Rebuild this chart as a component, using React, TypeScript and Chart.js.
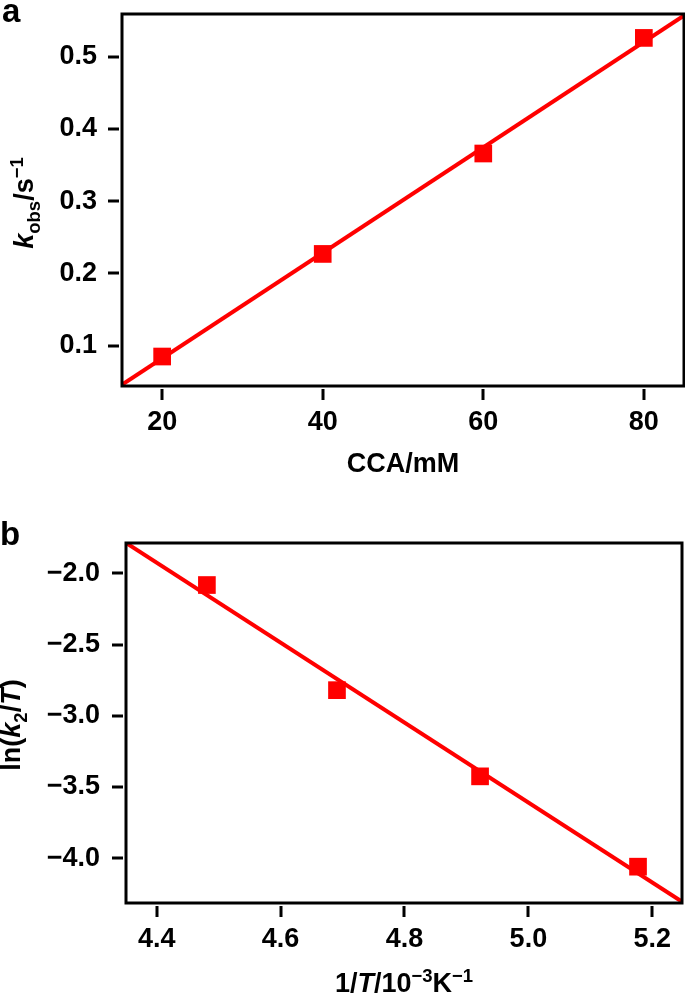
import React, { useEffect, useRef } from 'react';
import { Chart, registerables } from 'chart.js';

Chart.register(...registerables);

// ---------- Panel a data ----------
const CCA_MM = [20, 40, 60, 80];
const KOBS = [0.085, 0.227, 0.366, 0.526];
const FIT_A_X = [15, 85];
const FIT_A_Y = [0.046, 0.557];
const TICKS_A_X = [20, 40, 60, 80];
const TICK_LABELS_A_X = ['20', '40', '60', '80'];
const TICKS_A_Y = [0.1, 0.2, 0.3, 0.4, 0.5];
const TICK_LABELS_A_Y = ['0.1', '0.2', '0.3', '0.4', '0.5'];
const RANGE_A_X = [15, 85];
const RANGE_A_Y = [0.0442, 0.5591];

// ---------- Panel b data ----------
const INV_T = [4.481, 4.691, 4.922, 5.177];
const LN_K2_T = [-2.082, -2.82, -3.425, -4.059];
const FIT_B_X = [4.35, 5.248];
const FIT_B_Y = [-1.785, -4.305];
const TICKS_B_X = [4.4, 4.6, 4.8, 5.0, 5.2];
const TICK_LABELS_B_X = ['4.4', '4.6', '4.8', '5.0', '5.2'];
const TICKS_B_Y = [-4.0, -3.5, -3.0, -2.5, -2.0];
const TICK_LABELS_B_Y = ['\u22124.0', '\u22123.5', '\u22123.0', '\u22122.5', '\u22122.0'];
const RANGE_B_X = [4.3504, 5.248];
const RANGE_B_Y = [-4.314, -1.787];

const FAMILY = '"Liberation Sans", Arial, Helvetica, sans-serif';
const RED = '#ff0000';

type Seg = { t: string; it?: boolean; s?: 'sub' | 'sup' };

const TITLE_A_X: Seg[] = [{ t: 'CCA/mM' }];
const TITLE_A_Y: Seg[] = [{ t: 'k', it: true }, { t: 'obs', s: 'sub' }, { t: '/s' }, { t: '\u22121', s: 'sup' }];
const TITLE_B_X: Seg[] = [{ t: '1/' }, { t: 'T', it: true }, { t: '/10' }, { t: '\u22123', s: 'sup' }, { t: 'K' }, { t: '\u22121', s: 'sup' }];
const TITLE_B_Y: Seg[] = [{ t: 'ln(' }, { t: 'k', it: true }, { t: '2', s: 'sub' }, { t: '/' }, { t: 'T', it: true }, { t: ')' }];

const MAIN_SIZE = 27;
const SCRIPT_SIZE = 18.5;

function segFont(seg: Seg) {
  const size = seg.s ? SCRIPT_SIZE : MAIN_SIZE;
  return `${seg.it ? 'italic ' : ''}bold ${size}px ${FAMILY}`;
}

function drawRich(ctx: CanvasRenderingContext2D, segs: Seg[], cx: number, baseline: number) {
  let total = 0;
  const widths = segs.map((seg) => {
    ctx.font = segFont(seg);
    const w = ctx.measureText(seg.t).width;
    total += w;
    return w;
  });
  let x = cx - total / 2;
  ctx.textAlign = 'left';
  ctx.textBaseline = 'alphabetic';
  ctx.fillStyle = '#000';
  segs.forEach((seg, i) => {
    ctx.font = segFont(seg);
    const dy = seg.s === 'sub' ? 7 : seg.s === 'sup' ? -10 : 0;
    ctx.fillText(seg.t, x, baseline + dy);
    x += widths[i];
  });
}

interface DecorCfg {
  xTitle: Seg[];
  xTitleY: number;
  yTitle: Seg[];
  yTitleX: number;
  yTitleY: number;
  letter: string;
  letterX: number;
  letterY: number;
  xTicks: number[];
  yTicks: number[];
}

function makeDecor(cfg: DecorCfg) {
  return {
    id: 'decor',
    afterDraw(chart: any) {
      const ctx: CanvasRenderingContext2D = chart.ctx;
      const { left, right, top, bottom } = chart.chartArea;
      const xs = chart.scales.x;
      const ys = chart.scales.y;
      ctx.save();
      // box
      ctx.strokeStyle = '#000';
      ctx.lineWidth = 3;
      ctx.strokeRect(left, top, right - left, bottom - top);
      // tick marks
      const gap = 3;
      const len = 11;
      ctx.lineWidth = 3;
      ctx.beginPath();
      cfg.xTicks.forEach((v) => {
        const px = Math.round(xs.getPixelForValue(v));
        ctx.moveTo(px, bottom + gap);
        ctx.lineTo(px, bottom + gap + len);
      });
      cfg.yTicks.forEach((v) => {
        const py = Math.round(ys.getPixelForValue(v));
        ctx.moveTo(left - gap, py);
        ctx.lineTo(left - gap - len, py);
      });
      ctx.stroke();
      // titles
      drawRich(ctx, cfg.xTitle, (left + right) / 2, cfg.xTitleY);
      ctx.save();
      ctx.translate(cfg.yTitleX, cfg.yTitleY);
      ctx.rotate(-Math.PI / 2);
      drawRich(ctx, cfg.yTitle, 0, 0);
      ctx.restore();
      // panel letter
      ctx.font = `bold 33px ${FAMILY}`;
      ctx.fillStyle = '#000';
      ctx.textAlign = 'left';
      ctx.textBaseline = 'alphabetic';
      ctx.fillText(cfg.letter, cfg.letterX, cfg.letterY);
      ctx.restore();
    },
  };
}

interface PanelCfg {
  px: number[];
  py: number[];
  fx: number[];
  fy: number[];
  rx: number[];
  ry: number[];
  tx: number[];
  tlx: string[];
  ty: number[];
  tly: string[];
  padTop: number;
  padRight: number;
  yAxisWidth: number;
  xAxisHeight: number;
  yTickPad: number;
  decor: DecorCfg;
}

function buildConfig(p: PanelCfg): any {
  const font = { family: FAMILY, size: MAIN_SIZE, weight: 'bold' as const };
  const zeroPad = (s: any) => {
    s.paddingLeft = 0;
    s.paddingRight = 0;
    s.paddingTop = 0;
    s.paddingBottom = 0;
  };
  return {
    type: 'scatter',
    data: {
      datasets: [
        {
          data: p.fx.map((x, i) => ({ x, y: p.fy[i] })),
          showLine: true,
          borderColor: RED,
          borderWidth: 4,
          pointRadius: 0,
          fill: false,
          order: 2,
        },
        {
          data: p.px.map((x, i) => ({ x, y: p.py[i] })),
          showLine: false,
          pointStyle: 'rect',
          pointRadius: 12.5,
          pointBorderWidth: 0,
          backgroundColor: RED,
          borderColor: RED,
          order: 1,
        },
      ],
    },
    options: {
      responsive: false,
      animation: false,
      devicePixelRatio: 1,
      events: [],
      layout: { autoPadding: false, padding: { left: 0, right: p.padRight, top: p.padTop, bottom: 0 } },
      plugins: { legend: { display: false }, tooltip: { enabled: false } },
      scales: {
        x: {
          type: 'linear',
          position: 'bottom',
          min: p.rx[0],
          max: p.rx[1],
          grid: { display: false, drawTicks: false },
          border: { display: false },
          ticks: {
            padding: 20,
            color: '#000',
            font,
            autoSkip: false,
            maxRotation: 0,
            minRotation: 0,
            callback: (_v: any, i: number) => p.tlx[i],
          },
          afterBuildTicks: (s: any) => {
            s.ticks = p.tx.map((v) => ({ value: v }));
          },
          afterFit: (s: any) => {
            s.height = p.xAxisHeight;
            zeroPad(s);
          },
        },
        y: {
          type: 'linear',
          position: 'left',
          min: p.ry[0],
          max: p.ry[1],
          grid: { display: false, drawTicks: false },
          border: { display: false },
          ticks: {
            padding: p.yTickPad,
            color: '#000',
            font,
            autoSkip: false,
            callback: (_v: any, i: number) => p.tly[i],
          },
          afterBuildTicks: (s: any) => {
            s.ticks = p.ty.map((v) => ({ value: v }));
          },
          afterFit: (s: any) => {
            s.width = p.yAxisWidth;
            zeroPad(s);
          },
        },
      },
    },
    plugins: [makeDecor(p.decor)],
  };
}

const PANEL_A: PanelCfg = {
  px: CCA_MM,
  py: KOBS,
  fx: FIT_A_X,
  fy: FIT_A_Y,
  rx: RANGE_A_X,
  ry: RANGE_A_Y,
  tx: TICKS_A_X,
  tlx: TICK_LABELS_A_X,
  ty: TICKS_A_Y,
  tly: TICK_LABELS_A_Y,
  padTop: 14,
  padRight: 1,
  yAxisWidth: 122,
  xAxisHeight: 109,
  yTickPad: 25,
  decor: {
    xTitle: TITLE_A_X,
    xTitleY: 472,
    yTitle: TITLE_A_Y,
    yTitleX: 33,
    yTitleY: 203,
    letter: 'a',
    letterX: 2,
    letterY: 22,
    xTicks: TICKS_A_X,
    yTicks: TICKS_A_Y,
  },
};

const PANEL_B: PanelCfg = {
  px: INV_T,
  py: LN_K2_T,
  fx: FIT_B_X,
  fy: FIT_B_Y,
  rx: RANGE_B_X,
  ry: RANGE_B_Y,
  tx: TICKS_B_X,
  tlx: TICK_LABELS_B_X,
  ty: TICKS_B_Y,
  tly: TICK_LABELS_B_Y,
  padTop: 48,
  padRight: 3,
  yAxisWidth: 126,
  xAxisHeight: 93,
  yTickPad: 26,
  decor: {
    xTitle: TITLE_B_X,
    xTitleY: 497,
    yTitle: TITLE_B_Y,
    yTitleX: 20,
    yTitleY: 230,
    letter: 'b',
    letterX: 0,
    letterY: 50,
    xTicks: TICKS_B_X,
    yTicks: TICKS_B_Y,
  },
};

function Panel({ cfg, top, height }: { cfg: PanelCfg; top: number; height: number }) {
  const ref = useRef<HTMLCanvasElement | null>(null);
  useEffect(() => {
    if (!ref.current) return;
    const chart = new Chart(ref.current, buildConfig(cfg));
    return () => chart.destroy();
  }, [cfg]);
  return (
    <canvas
      ref={ref}
      width={685}
      height={height}
      style={{ position: 'absolute', left: 0, top, width: 685, height, display: 'block' }}
    />
  );
}

export default function App() {
  return (
    <div style={{ position: 'absolute', left: 0, top: 0, width: 685, height: 996, background: '#fff', overflow: 'hidden' }}>
      <Panel cfg={PANEL_A} top={0} height={495} />
      <Panel cfg={PANEL_B} top={495} height={501} />
    </div>
  );
}
